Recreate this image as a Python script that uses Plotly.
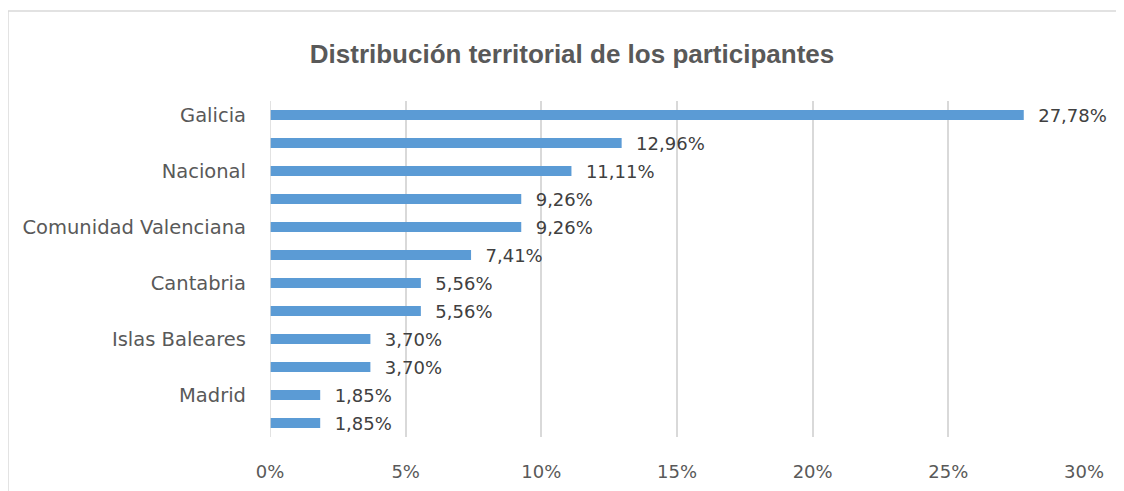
import plotly.graph_objects as go

positions = list(range(12))
tick_labels = ["Galicia", None, "Nacional", None, "Comunidad Valenciana", None,
               "Cantabria", None, "Islas Baleares", None, "Madrid", None]
values = [27.78, 12.96, 11.11, 9.26, 9.26, 7.41, 5.56, 5.56, 3.70, 3.70, 1.85, 1.85]
value_labels = ["\u00a0\u00a0" + f"{v:.2f}%".replace(".", ",") for v in values]

tickvals = [p for p, t in zip(positions, tick_labels) if t]
ticktext = [t for t in tick_labels if t]

fig = go.Figure(go.Bar(
    y=positions, x=values, orientation="h",
    marker=dict(color="#5B9BD5", line=dict(width=0)),
    text=value_labels, textposition="outside", constraintext="none",
    textfont=dict(color="#404040", size=18, family="DejaVu Sans"),
    cliponaxis=False, width=0.36,
))

fig.update_layout(
    width=1124, height=491,
    paper_bgcolor="white", plot_bgcolor="white",
    margin=dict(l=262, r=48, t=93, b=62),
    title=dict(text="<b>Distribución territorial de los participantes</b>",
               x=0.371, xanchor="center", xref="paper", y=0.906, yanchor="middle",
               font=dict(family="Liberation Sans, Arial, sans-serif",
                         size=26, color="#595959")),
    showlegend=False,
    shapes=[dict(type="rect", xref="paper", yref="paper", x0=-0.3219, x1=1.07, y0=-0.25, y1=1.268,
                 line=dict(color="#D9D9D9", width=1.5), fillcolor="rgba(0,0,0,0)", layer="below")],
)
fig.update_xaxes(range=[0, 30], tickvals=[0, 5, 10, 15, 20, 25, 30],
                 ticktext=["0%", "5%", "10%", "15%", "20%", "25%", "30%"],
                 showgrid=True, gridcolor="#D9D9D9", gridwidth=1.5,
                 zeroline=False, showline=False, ticks="", ticklabelstandoff=22,
                 tickfont=dict(family="DejaVu Sans", size=18, color="#595959"))
fig.update_yaxes(range=[11.5, -0.5], tickvals=tickvals, ticktext=ticktext,
                 showgrid=False, zeroline=False, showline=False, ticks="",
                 ticklabelstandoff=23,
                 tickfont=dict(family="DejaVu Sans", size=19.5, color="#595959"))
fig.add_shape(type="line", xref="x", yref="paper", x0=0, x1=0, y0=0, y1=1,
              line=dict(color="#D9D9D9", width=1.5))

fig.write_html("out.html")
